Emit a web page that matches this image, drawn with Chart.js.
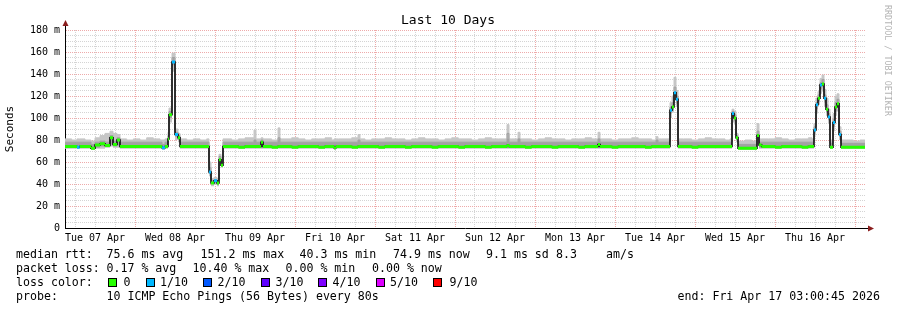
<!DOCTYPE html>
<html>
<head>
<meta charset="utf-8">
<title>Last 10 Days</title>
<script src="https://cdn.jsdelivr.net/npm/chart.js@4.4.1/dist/chart.umd.min.js"></script>
<style>
html, body { margin: 0; padding: 0; background: #fff; }
#wrap { width: 897px; height: 310px; position: relative; }
</style>
</head>
<body>
<div id="wrap"><canvas id="smokeChart" width="897" height="310"></canvas></div>
<script>
// hours since Tue 07 Apr 03:00 (window is 10 days = 240 h)
var hours = [
    0, 2, 3.6, 4.4, 6, 7.8, 9, 10.5, 12, 13.5,
    14.4, 15.6, 16.5, 18.5, 20.5, 22.5, 24.5, 26.5, 28.5, 29.1,
    30, 30.9, 31.2, 32.1, 33, 33.9, 34.5, 36.5, 38.5, 40.5,
    42.5, 43.2, 43.8, 44.7, 45.6, 46.2, 46.8, 47.4,
    48, 50, 52, 54, 56.7, 57.3, 58.8, 59.4, 60, 62,
    63.9, 64.5, 66, 68, 70, 72, 74, 76, 78, 80,
    80.7, 81.3, 82, 84, 86, 87.9, 88.5, 90, 92, 94,
    96, 98, 100, 102, 104, 106, 108, 110, 112, 114,
    116, 118, 120, 122, 124, 126, 128, 130, 132.6, 133.2,
    134, 135.9, 136.5, 138, 140, 142, 144, 146, 148, 150,
    152, 154, 156, 158, 159.9, 160.5, 162, 164, 166, 168,
    170, 172, 174, 176, 177.3, 177.9, 179, 180.6,
    181.5, 182.1, 182.7, 183.3, 183.9, 185.5, 188, 190, 192, 194,
    196, 198, 199.5, 200.1, 200.7, 201.3, 201.9, 204, 206, 207.6,
    208.2, 209, 211, 213, 215, 217, 219, 221, 223, 224.1,
    224.7, 225.3, 225.9, 226.5, 227.1, 227.7, 228.3, 228.9, 229.5, 230.4,
    231, 231.6, 232.2, 232.8, 234.5, 236.5, 238.5, 240
];

// median rtt in ms
var medianRtt = [
    74, 74, 73.5, 74, 74, 72.5, 75.5, 76.5, 75, 82,
    76, 80, 74, 74, 74, 74, 74, 74, 74, 73,
    74, 81, 103, 151, 85, 82, 74, 74, 74, 74,
    74, 51, 41, 43, 41, 62, 57, 74,
    74, 74, 73.5, 74, 74, 74, 78, 74, 74, 73.5,
    74, 74, 74, 73.5, 74, 74, 74, 73.5, 74, 74,
    73, 74, 74, 74, 73.5, 74, 74, 74, 74, 73.5,
    74, 74, 74, 73.5, 74, 74, 74, 73.5, 74, 74,
    74, 73.5, 74, 74, 74, 73.5, 74, 74, 75, 74,
    74, 74, 74, 73.5, 74, 74, 74, 73.5, 74, 74,
    74, 73.5, 74, 74, 76, 74, 74, 73.5, 74, 74,
    74, 74, 73.5, 74, 74, 74, 74, 74,
    107, 110, 123, 117, 74, 74, 73.5, 74, 74, 74,
    74, 74, 74, 104, 100, 82, 72.5, 72.5, 72.5, 84,
    75.5, 74, 74, 73.5, 74, 74, 74, 73.5, 74, 74,
    89, 112, 118, 130, 131, 118, 108, 101, 73.5, 96,
    110, 113, 85, 73.5, 73.5, 73.5, 73.5, 73.5
];

// smoke: lowest / inner-low / inner-high / highest ping of each step
var smokeLow = [
    72, 72, 72, 72, 72, 71, 72, 72, 73, 74,
    73, 73, 72, 72, 72, 72, 72, 72, 72, 71,
    72, 75, 96, 142, 80, 78, 72, 72, 72, 72,
    72, 47, 38, 39, 38, 58, 55, 72,
    72, 72, 72, 72, 72, 72, 72, 72, 72, 72,
    72, 72, 72, 72, 72, 72, 72, 72, 72, 72,
    71, 72, 72, 72, 72, 72, 72, 72, 72, 72,
    72, 72, 72, 72, 72, 72, 72, 72, 72, 72,
    72, 72, 72, 72, 72, 72, 72, 72, 72, 72,
    72, 72, 72, 72, 72, 72, 72, 72, 72, 72,
    72, 72, 72, 72, 72, 72, 72, 72, 72, 72,
    72, 72, 72, 72, 72, 72, 72, 72,
    100, 105, 116, 110, 72, 72, 72, 72, 72, 72,
    72, 72, 72, 96, 94, 78, 71, 71, 71, 76,
    72, 72, 72, 72, 72, 72, 72, 72, 72, 72,
    84, 104, 112, 122, 124, 110, 102, 95, 72, 88,
    102, 106, 80, 72, 72, 72, 72, 72
];
var smokeInLow = [
    73, 73, 73, 73, 73, 72, 73, 74, 74, 76,
    74, 75, 73, 73, 73, 73, 73, 73, 73, 72,
    73, 78, 100, 148, 83, 80, 73, 73, 73, 73,
    73, 49, 40, 41, 39, 60, 56, 73,
    73, 73, 73, 73, 73, 73, 73, 73, 73, 73,
    73, 73, 73, 73, 73, 73, 73, 73, 73, 73,
    72, 73, 73, 73, 73, 73, 73, 73, 73, 73,
    73, 73, 73, 73, 73, 73, 73, 73, 73, 73,
    73, 73, 73, 73, 73, 73, 73, 73, 73, 73,
    73, 73, 73, 73, 73, 73, 73, 73, 73, 73,
    73, 73, 73, 73, 73, 73, 73, 73, 73, 73,
    73, 73, 73, 73, 73, 73, 73, 73,
    104, 107, 120, 113, 73, 73, 73, 73, 73, 73,
    73, 73, 73, 100, 97, 80, 72, 72, 72, 80,
    73, 73, 73, 73, 73, 73, 73, 73, 73, 73,
    87, 108, 115, 126, 128, 114, 105, 98, 73, 92,
    106, 110, 83, 73, 73, 73, 73, 73
];
var smokeInHigh = [
    78, 78, 78, 78, 78, 76, 78, 79, 78, 84,
    79, 82, 78, 78, 78, 78, 78, 78, 78, 76,
    78, 84, 106, 155, 87, 84, 78, 78, 78, 78,
    78, 55, 43, 44, 43, 65, 59, 78,
    78, 78, 78, 78, 80, 78, 80, 78, 78, 78,
    82, 78, 78, 78, 78, 78, 78, 78, 78, 78,
    78, 78, 78, 78, 78, 80, 78, 78, 78, 78,
    78, 78, 78, 78, 78, 78, 78, 78, 78, 78,
    78, 78, 78, 78, 78, 78, 78, 78, 86, 78,
    78, 81, 78, 78, 78, 78, 78, 78, 78, 78,
    78, 78, 78, 78, 81, 78, 78, 78, 78, 78,
    78, 78, 78, 78, 80, 78, 78, 78,
    110, 114, 128, 120, 78, 78, 78, 78, 78, 78,
    78, 78, 78, 106, 103, 84, 76, 76, 76, 88,
    78, 78, 78, 78, 78, 78, 78, 78, 78, 78,
    92, 114, 121, 132, 135, 121, 112, 104, 77, 99,
    114, 117, 88, 77, 77, 77, 77, 77
];
var smokeHigh = [
    81, 80, 81, 81, 80, 79, 82, 84, 86, 88,
    86, 85, 81, 80, 81, 80, 82, 81, 80, 80,
    81, 87, 109, 159, 90, 86, 81, 80, 81, 80,
    81, 60, 45, 46, 45, 67, 61, 81,
    81, 80, 81, 82, 89, 81, 82, 81, 81, 80,
    91, 81, 81, 82, 81, 80, 81, 81, 82, 80,
    81, 81, 81, 81, 82, 85, 81, 80, 81, 81,
    82, 81, 81, 80, 81, 82, 81, 81, 80, 81,
    82, 81, 81, 80, 81, 82, 81, 81, 94, 81,
    81, 87, 81, 81, 80, 81, 82, 81, 81, 80,
    81, 81, 82, 81, 87, 81, 81, 80, 81, 81,
    82, 81, 81, 80, 83, 81, 81, 81,
    114, 120, 137, 125, 81, 81, 80, 81, 82, 81,
    81, 80, 81, 108, 106, 86, 79, 80, 79, 95,
    81, 81, 81, 82, 81, 80, 81, 81, 82, 81,
    95, 118, 124, 136, 139, 126, 118, 108, 80, 104,
    120, 122, 92, 80, 80, 79, 80, 80
];

// loss per step, index into lossColors (0 = no loss, 1 = 1/10)
var lossIndex = [
    0, 0, 1, 0, 0, 0, 0, 0, 0, 0,
    0, 0, 0, 0, 0, 0, 0, 0, 0, 1,
    0, 0, 0, 1, 1, 0, 0, 0, 0, 0,
    0, 1, 0, 1, 0, 0, 0, 0,
    0, 0, 0, 0, 0, 0, 0, 0, 0, 0,
    0, 0, 0, 0, 0, 0, 0, 0, 0, 0,
    0, 0, 0, 0, 0, 0, 0, 0, 0, 0,
    0, 0, 0, 0, 0, 0, 0, 0, 0, 0,
    0, 0, 0, 0, 0, 0, 0, 0, 0, 0,
    0, 0, 0, 0, 0, 0, 0, 0, 0, 0,
    0, 0, 0, 0, 0, 0, 0, 0, 0, 0,
    0, 0, 0, 0, 0, 0, 0, 0,
    1, 0, 1, 1, 0, 0, 0, 0, 0, 0,
    0, 0, 0, 1, 0, 0, 0, 0, 0, 0,
    0, 0, 0, 0, 0, 0, 0, 0, 0, 0,
    1, 1, 0, 1, 0, 1, 0, 1, 0, 1,
    0, 0, 1, 0, 0, 0, 0, 0
];

var lossLabels = ['0', '1/10', '2/10', '3/10', '4/10', '5/10', '9/10'];
var lossColors = ['#26ff00', '#00b8ff', '#0059ff', '#5e00ff', '#7e00ff', '#dd00ff', '#ff0000'];
var dayLabels  = ['Tue 07 Apr', 'Wed 08 Apr', 'Thu 09 Apr', 'Fri 10 Apr', 'Sat 11 Apr',
                  'Sun 12 Apr', 'Mon 13 Apr', 'Tue 14 Apr', 'Wed 15 Apr', 'Thu 16 Apr'];

var MONO = '"DejaVu Sans Mono", monospace';
var MAJOR = '#eeaaaa';
var MINOR = '#d4d4d4';

// grid every 6 h (06:00, 12:00, 18:00, 00:00), every 5 ms on y
var xTicks = [];
for (var h = 3; h < 240; h += 6) xTicks.push(h);
var yTicks = [];
for (var v = 0; v <= 180; v += 5) yTicks.push(v);

function xy(arr) {
    return hours.map(function (h, i) { return {x: h, y: arr[i]}; });
}
// horizontal piece of the median for every step that has loss level k
function lossPieces(k) {
    var out = [];
    for (var i = 0; i < hours.length - 1; i++) {
        if (lossIndex[i] !== k) continue;
        out.push({x: hours[i], y: medianRtt[i]}, {x: hours[i + 1], y: medianRtt[i]}, {x: hours[i + 1], y: null});
    }
    return out;
}
function hourLabel(h) {
    var d = (h - 9) / 24;
    return (d === Math.floor(d) && dayLabels[d]) ? dayLabels[d] : '';
}
function isMidnight(h) {
    return (h - 21) % 24 === 0;
}

function smoke(arr, fill, color, order) {
    return {
        data: xy(arr), stepped: true, pointRadius: 0,
        borderWidth: 1, borderColor: fill ? color : 'rgba(0,0,0,0)',
        backgroundColor: color, fill: fill ? '+1' : false, order: order
    };
}
function lossLine(k, order) {
    return {
        data: lossPieces(k), spanGaps: false, pointRadius: 0, fill: false,
        borderWidth: 3, borderColor: lossColors[k], borderCapStyle: 'butt', order: order
    };
}

var decorations = {
    id: 'decorations',
    afterDraw: function (chart) {
        var ctx = chart.ctx;
        var a = chart.chartArea;
        ctx.save();

        // axis arrows
        ctx.strokeStyle = '#000';
        ctx.lineWidth = 1;
        ctx.beginPath();
        ctx.moveTo(a.left + 0.5, a.top);
        ctx.lineTo(a.left + 0.5, a.top - 5);
        ctx.moveTo(a.right, a.bottom + 0.5);
        ctx.lineTo(a.right + 4, a.bottom + 0.5);
        ctx.stroke();
        ctx.fillStyle = '#8b1f1f';
        ctx.beginPath();
        ctx.moveTo(a.left + 0.5, a.top - 10);
        ctx.lineTo(a.left + 3.5, a.top - 4);
        ctx.lineTo(a.left - 2.5, a.top - 4);
        ctx.fill();
        ctx.beginPath();
        ctx.moveTo(a.right + 9, a.bottom + 0.5);
        ctx.lineTo(a.right + 3, a.bottom + 3.5);
        ctx.lineTo(a.right + 3, a.bottom - 2.5);
        ctx.fill();

        // title
        ctx.fillStyle = '#000';
        ctx.font = '13px ' + MONO;
        ctx.textAlign = 'center';
        ctx.textBaseline = 'alphabetic';
        ctx.fillText('Last 10 Days', 448, 24);

        // watermark
        ctx.save();
        ctx.translate(887.5, 5);
        ctx.rotate(Math.PI / 2);
        ctx.fillStyle = '#b4b4b4';
        ctx.font = '8.4px ' + MONO;
        ctx.textAlign = 'left';
        ctx.textBaseline = 'middle';
        ctx.fillText('RRDTOOL / TOBI OETIKER', 0, 0);
        ctx.restore();

        // legend
        ctx.font = '11.6px ' + MONO;
        ctx.textAlign = 'left';
        ctx.fillStyle = '#000';
        var rows = [
            [258, [[16, 'median rtt:'], [106.5, '75.6 ms avg'], [200.5, '151.2 ms max'], [299.5, '40.3 ms min'],
                   [393, '74.9 ms now'], [486, '9.1 ms sd'], [556, '8.3'], [606, 'am/s']]],
            [272, [[16, 'packet loss:'], [106.5, '0.17 % avg'], [192.5, '10.40 % max'], [285.5, '0.00 % min'],
                   [372, '0.00 % now']]],
            [286, [[16, 'loss color:']]],
            [300, [[16, 'probe:'], [106.5, '10 ICMP Echo Pings (56 Bytes) every 80s'],
                   [677.5, 'end: Fri Apr 17 03:00:45 2026']]]
        ];
        rows.forEach(function (r) {
            r[1].forEach(function (t) { ctx.fillText(t[1], t[0], r[0]); });
        });
        var boxX = [108, 146, 203, 261, 318, 376, 433];
        var textX = [123.5, 160, 217.5, 275.5, 332.5, 390, 449.5];
        lossLabels.forEach(function (lab, i) {
            ctx.fillStyle = lossColors[i];
            ctx.fillRect(boxX[i] + 0.5, 278.5, 8, 8);
            ctx.strokeStyle = '#000';
            ctx.strokeRect(boxX[i] + 0.5, 278.5, 8, 8);
            ctx.fillStyle = '#000';
            ctx.fillText(lab, textX[i], 286);
        });
        ctx.restore();
    }
};

new Chart(document.getElementById('smokeChart').getContext('2d'), {
    type: 'line',
    data: {
        datasets: [
            smoke(smokeHigh, true, '#c6c6c6', 7),
            smoke(smokeLow, false, '#c6c6c6', 6),
            smoke(smokeInHigh, true, '#a2a2a2', 5),
            smoke(smokeInLow, false, '#a2a2a2', 4),
            {
                data: xy(medianRtt), stepped: true, pointRadius: 0, fill: false,
                borderWidth: 1.5, borderColor: '#000', order: 3
            },
            lossLine(0, 2),
            lossLine(1, 1)
        ]
    },
    options: {
        responsive: false,
        animation: false,
        events: [],
        layout: { padding: { top: 30, right: 32, bottom: 62, left: 0 } },
        plugins: {
            legend: { display: false }, tooltip: { enabled: false }, title: { display: false },
            filler: { drawTime: 'beforeDatasetsDraw' }
        },
        scales: {
            x: {
                type: 'linear', min: 0, max: 240,
                afterBuildTicks: function (s) { s.ticks = xTicks.map(function (v) { return {value: v}; }); },
                afterFit: function (s) { s.height = 20; },
                ticks: {
                    autoSkip: false, maxRotation: 0, padding: 4, color: '#000',
                    font: { family: MONO, size: 10 },
                    callback: function (v) { return hourLabel(v); }
                },
                grid: {
                    drawTicks: false, lineWidth: 1,
                    color: function (c) { return isMidnight(c.tick.value) ? MAJOR : MINOR; }
                },
                border: { display: true, color: '#000', width: 1, dash: [1, 1] }
            },
            y: {
                min: 0, max: 180,
                afterBuildTicks: function (s) { s.ticks = yTicks.map(function (v) { return {value: v}; }); },
                afterFit: function (s) { s.width = 65; },
                ticks: {
                    autoSkip: false, padding: 5, color: '#000',
                    font: { family: MONO, size: 10 },
                    callback: function (v) { return v % 20 ? '' : (v === 0 ? '0' : v + ' m'); }
                },
                grid: {
                    drawTicks: false, lineWidth: 1,
                    color: function (c) { return c.tick.value % 20 === 0 ? MAJOR : MINOR; }
                },
                border: { display: true, color: '#000', width: 1, dash: [1, 1] },
                title: {
                    display: true, text: 'Seconds', color: '#000',
                    font: { family: MONO, size: 11 }, padding: { top: 4, bottom: 0 }
                }
            }
        }
    },
    plugins: [decorations]
});
</script>
</body>
</html>
